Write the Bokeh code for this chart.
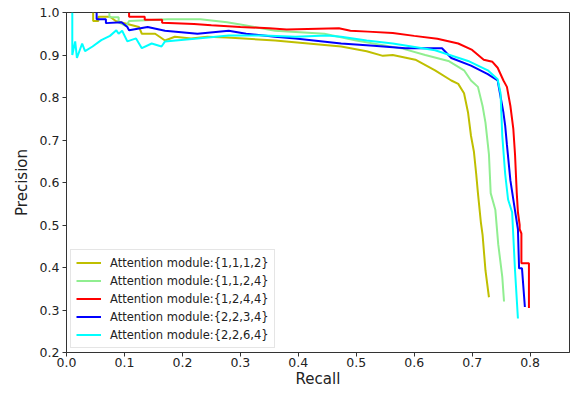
from bokeh.plotting import figure
from bokeh.models import FixedTicker, PrintfTickFormatter, Range1d, Legend, LegendItem
from bokeh.embed import file_html
from bokeh.resources import INLINE

# ---- data ----
labels = ["Attention module:{1,1,1,2}", "Attention module:{1,1,2,4}",
          "Attention module:{1,2,4,4}", "Attention module:{2,2,3,4}",
          "Attention module:{2,2,6,4}"]
colors = ["#bfbf00", "#90ee90", "#ff0000", "#0000ff", "#00ffff"]

recall_1112 = [0.046, 0.046, 0.055, 0.055, 0.075, 0.085, 0.125, 0.13, 0.153, 0.17, 0.187, 0.215, 0.243,
               0.277, 0.36, 0.417, 0.474, 0.518, 0.546, 0.563, 0.602, 0.636, 0.664, 0.676, 0.686, 0.693,
               0.698, 0.703, 0.707, 0.71, 0.715, 0.718, 0.723, 0.729]
precision_1112 = [1.0, 0.98, 0.98, 0.99, 0.99, 0.98, 0.966, 0.95, 0.95, 0.934, 0.943, 0.939, 0.943,
                  0.941, 0.934, 0.927, 0.92, 0.909, 0.898, 0.9, 0.889, 0.864, 0.84, 0.832, 0.81, 0.764,
                  0.71, 0.673, 0.62, 0.575, 0.507, 0.477, 0.393, 0.33]

recall_1124 = [0.074, 0.074, 0.09, 0.09, 0.103, 0.108, 0.175, 0.231, 0.277, 0.30, 0.36, 0.445, 0.50,
               0.58, 0.619, 0.659, 0.686, 0.698, 0.71, 0.718, 0.723, 0.729, 0.732, 0.74, 0.745, 0.752, 0.755]
precision_1124 = [1.0, 0.989, 0.989, 0.977, 0.968, 0.98, 0.984, 0.984, 0.977, 0.972, 0.957, 0.95, 0.934,
                  0.915, 0.9, 0.886, 0.864, 0.84, 0.825, 0.78, 0.741, 0.666, 0.575, 0.536, 0.455, 0.378, 0.32]

recall_1244 = [0.108, 0.108, 0.135, 0.135, 0.165, 0.165, 0.22, 0.25, 0.30, 0.35, 0.38, 0.47, 0.49, 0.52,
               0.563, 0.60, 0.64, 0.676, 0.70, 0.72, 0.735, 0.744, 0.754, 0.76, 0.766, 0.771, 0.774,
               0.777, 0.779, 0.782, 0.782, 0.785, 0.785, 0.798, 0.798]
precision_1244 = [1.0, 0.99, 0.99, 0.983, 0.983, 0.976, 0.973, 0.97, 0.966, 0.963, 0.96, 0.963, 0.957,
                  0.955, 0.952, 0.945, 0.938, 0.927, 0.912, 0.889, 0.884, 0.87, 0.84, 0.825, 0.78, 0.727,
                  0.666, 0.575, 0.53, 0.50, 0.49, 0.48, 0.41, 0.41, 0.305]

recall_2234 = [0.052, 0.052, 0.068, 0.068, 0.095, 0.105, 0.108, 0.14, 0.17, 0.226, 0.28, 0.31, 0.36,
               0.395, 0.474, 0.53, 0.585, 0.648, 0.664, 0.698, 0.727, 0.744, 0.754, 0.757, 0.76, 0.766,
               0.774, 0.779, 0.781, 0.786, 0.791]
precision_2234 = [1.0, 0.984, 0.984, 0.975, 0.977, 0.966, 0.958, 0.966, 0.957, 0.95, 0.957, 0.95, 0.943,
                  0.939, 0.927, 0.922, 0.916, 0.916, 0.893, 0.875, 0.855, 0.84, 0.764, 0.734, 0.689, 0.605,
                  0.534, 0.49, 0.398, 0.398, 0.307]

recall_2264 = [0.01, 0.01, 0.015, 0.018, 0.027, 0.032, 0.045, 0.06, 0.075, 0.086, 0.09, 0.096, 0.105,
               0.12, 0.13, 0.147, 0.164, 0.17, 0.226, 0.28, 0.34, 0.395, 0.45, 0.474, 0.518, 0.563, 0.636,
               0.693, 0.727, 0.744, 0.749, 0.752, 0.757, 0.762, 0.769, 0.774, 0.779]
precision_2264 = [1.0, 0.9, 0.932, 0.893, 0.927, 0.909, 0.92, 0.935, 0.945, 0.958, 0.95, 0.957, 0.932,
                  0.939, 0.916, 0.927, 0.92, 0.932, 0.939, 0.946, 0.946, 0.943, 0.946, 0.943, 0.934, 0.927,
                  0.911, 0.886, 0.864, 0.843, 0.81, 0.71, 0.62, 0.56, 0.53, 0.393, 0.28]

x_ticks = [0.0, 0.1, 0.2, 0.3, 0.4, 0.5, 0.6, 0.7, 0.8]
y_ticks = [0.2, 0.3, 0.4, 0.5, 0.6, 0.7, 0.8, 0.9, 1.0]

series = [(recall_1112, precision_1112), (recall_1124, precision_1124),
          (recall_1244, precision_1244), (recall_2234, precision_2234),
          (recall_2264, precision_2264)]

FONT = "DejaVu Sans"

p = figure(width=571, height=390, output_backend="svg", toolbar_location=None,
           x_range=Range1d(0.0, 0.868), y_range=Range1d(0.2, 1.0),
           min_border_left=66, min_border_top=12, min_border_right=2, min_border_bottom=0)
p.grid.visible = False
p.outline_line_color = "#333333"
p.outline_line_width = 1
p.background_fill_color = "white"

items = []
for (xs, ys), lab, col in zip(series, labels, colors):
    r = p.line(xs, ys, line_color=col, line_width=2)
    items.append(LegendItem(label=lab, renderers=[r]))

for ax in (p.xaxis[0], p.yaxis[0]):
    ax.minor_tick_line_color = None
    ax.major_tick_in = 0
    ax.major_tick_out = 4
    ax.major_tick_line_color = "#333333"
    ax.axis_line_color = "#333333"
    ax.major_label_text_font = FONT
    ax.major_label_text_font_size = "12.5px"
    ax.major_label_text_color = "#222222"
    ax.axis_label_text_font = FONT
    ax.axis_label_text_font_size = "15px"
    ax.axis_label_text_font_style = "normal"
    ax.axis_label_text_color = "#222222"

p.xaxis.ticker = FixedTicker(ticks=x_ticks)
p.yaxis.ticker = FixedTicker(ticks=y_ticks)
p.xaxis.formatter = PrintfTickFormatter(format="%.1f")
p.yaxis.formatter = PrintfTickFormatter(format="%.1f")
p.xaxis.axis_label = "Recall"
p.yaxis.axis_label = "Precision"
p.xaxis.major_label_standoff = 1
p.xaxis.axis_label_standoff = 0
p.yaxis.major_label_standoff = 3
p.yaxis.axis_label_standoff = 6

legend = Legend(items=items, location="bottom_left")
legend.label_text_font = FONT
legend.label_text_font_size = "11.5px"
legend.label_text_color = "#222222"
legend.glyph_width = 25
legend.glyph_height = 15
legend.label_height = 15
legend.spacing = 3
legend.label_standoff = 9
legend.padding = 5
legend.margin = 4
legend.border_line_color = "#cccccc"
legend.border_line_width = 1
legend.background_fill_alpha = 0.8
p.add_layout(legend, "center")

open("out.html", "w").write(file_html(p, INLINE))
